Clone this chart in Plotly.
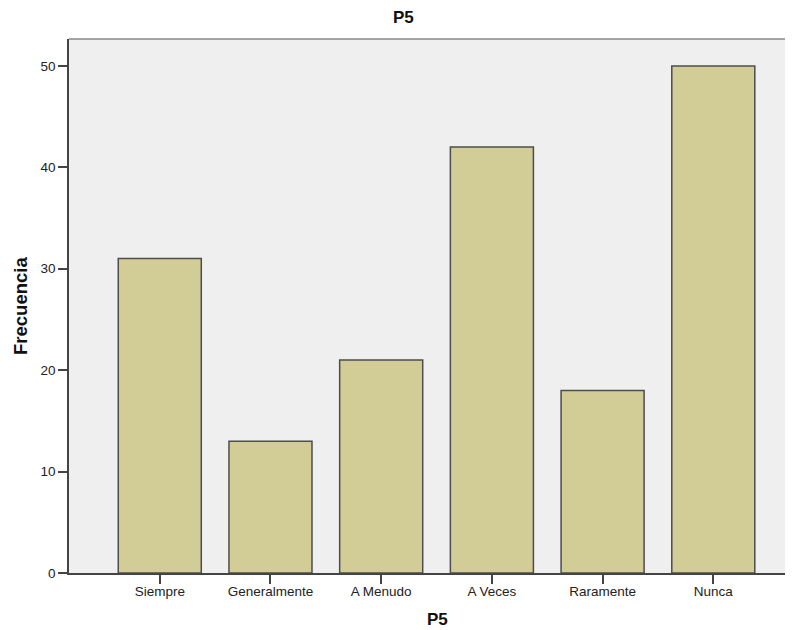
import plotly.graph_objects as go

categorias = ['Siempre', 'Generalmente', 'A Menudo', 'A Veces', 'Raramente', 'Nunca']
frecuencia = [31, 13, 21, 42, 18, 50]

fig = go.Figure(go.Bar(
    x=categorias,
    y=frecuencia,
    width=0.75,
    marker=dict(color='#d2cd96', line=dict(color='#4d4d4d', width=1.5)),
))

# page body has an 8px margin, so the figure is a bit smaller than the window
fig.update_layout(
    width=785, height=622,
    margin=dict(l=61, r=0, t=31, b=57, autoexpand=False),
    paper_bgcolor='white',
    plot_bgcolor='#efefef',
    font=dict(family='Liberation Sans, Arial, sans-serif', color='#222'),
    showlegend=False,
)
fig.update_xaxes(
    range=[-0.82, 5.72], automargin=False,
    showline=True, linecolor='#444', linewidth=1.5,
    ticks='outside', ticklen=9, tickcolor='#444', tickwidth=1.5,
    ticklabelstandoff=-4,
    tickfont=dict(size=13.5, color='#222'),
    showgrid=False,
)
fig.update_yaxes(
    range=[0, 52.65], automargin=False,
    tickvals=[0, 10, 20, 30, 40, 50],
    showline=True, linecolor='#444', linewidth=1.5,
    ticks='outside', ticklen=9, tickcolor='#444', tickwidth=1.5,
    tickfont=dict(size=13.5, color='#222'),
    showgrid=False, zeroline=False,
)
# top border of the plot frame
fig.add_shape(type='line', xref='paper', yref='paper', x0=0, x1=1, y0=1, y1=1,
              line=dict(color='#888', width=1.5))

# titles
fig.add_annotation(text='<b>P5</b>', xref='paper', yref='paper', x=(403 - 69) / 724, y=1,
                   xanchor='center', yanchor='middle', yshift=22, showarrow=False,
                   font=dict(size=17, color='#111'))
fig.add_annotation(text='<b>P5</b>', xref='paper', yref='paper', x=(437 - 69) / 724, y=0,
                   xanchor='center', yanchor='middle', yshift=-46, showarrow=False,
                   font=dict(size=17, color='#111'))
fig.add_annotation(text='<b>Frecuencia</b>', xref='paper', yref='paper', x=0, y=0.5,
                   xanchor='center', yanchor='middle', xshift=-49, textangle=-90,
                   showarrow=False, font=dict(size=18.5, color='#111'))

fig.write_html('out.html')
